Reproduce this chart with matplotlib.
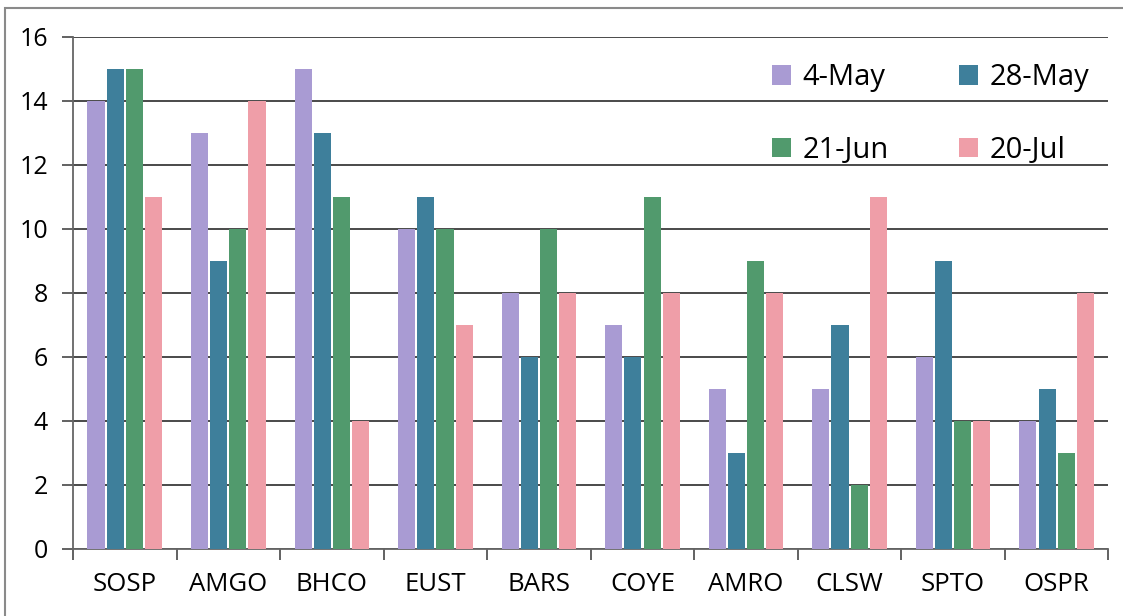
import numpy as np
import matplotlib
matplotlib.use("Agg")
import matplotlib.pyplot as plt
from matplotlib.patches import Rectangle

# bird counts per survey date
SPECIES = ["SOSP", "AMGO", "BHCO", "EUST", "BARS", "COYE", "AMRO", "CLSW", "SPTO", "OSPR"]
DATES   = ["4-May", "28-May", "21-Jun", "20-Jul"]
MAY_04  = [14, 13, 15, 10, 8, 7, 5, 5, 6, 4]
MAY_28  = [15, 9, 13, 11, 6, 6, 3, 7, 9, 5]
JUN_21  = [15, 10, 11, 10, 10, 11, 9, 2, 4, 3]
JUL_20  = [11, 14, 4, 7, 8, 8, 8, 11, 4, 8]
COLORS  = ["#a99bd3", "#3e7f9b", "#519a6d", "#ef9ea8"]

plt.rcParams["font.family"] = ["Open Sans", "DejaVu Sans"]

fig = plt.figure(figsize=(11.23, 6.16), dpi=100)
ax = fig.add_axes([0.065, 0.109, 0.922, 0.831])

x = np.arange(len(SPECIES))
step = 0.185
width = 0.165
series = [MAY_04, MAY_28, JUN_21, JUL_20]
bars = []
for i, (vals, lab, col) in enumerate(zip(series, DATES, COLORS)):
    bars.append(ax.bar(x + (i - 1.5) * step, vals, width, color=col, label=lab, zorder=3))

ax.set_xlim(-0.5, len(SPECIES) - 0.5)
ax.set_ylim(0, 16)
ax.set_yticks(range(0, 17, 2))
ax.yaxis.grid(True, color="#3c3c3c", linewidth=1.3, zorder=0)
ax.set_axisbelow(True)

ax.set_xticks(np.arange(-0.5, len(SPECIES), 1.0))
ax.set_xticklabels([])
ax.set_xticks(x, minor=True)
ax.set_xticklabels(SPECIES, minor=True)
ax.tick_params(axis="x", which="major", direction="out", length=8, width=1.3, color="#555555")
ax.tick_params(axis="x", which="minor", length=0, pad=17, labelsize=18.5)
ax.tick_params(axis="y", direction="out", length=8, width=1.3, color="#555555", labelsize=18, pad=10)

for s in ["top", "right"]:
    ax.spines[s].set_visible(False)
for s in ["left", "bottom"]:
    ax.spines[s].set_color("#666666")
    ax.spines[s].set_linewidth(1.3)

# legend fills column-first, so order entries to read row by row
order = [0, 2, 1, 3]
ax.legend([bars[k] for k in order], [DATES[k] for k in order],
          ncol=2, loc="upper right", bbox_to_anchor=(1.007, 1.0), frameon=False,
          fontsize=21, handlelength=0.65, handleheight=0.65, handletextpad=0.4,
          labelspacing=1.5, columnspacing=2.4)

# outer chart frame
fig.add_artist(Rectangle((5 / 1123, -0.05), 1.2, 1 - 8 / 616 + 0.05,
                         transform=fig.transFigure, fill=False,
                         edgecolor="#8a8a8a", linewidth=1.5))

fig.savefig("out.png", dpi=100)
